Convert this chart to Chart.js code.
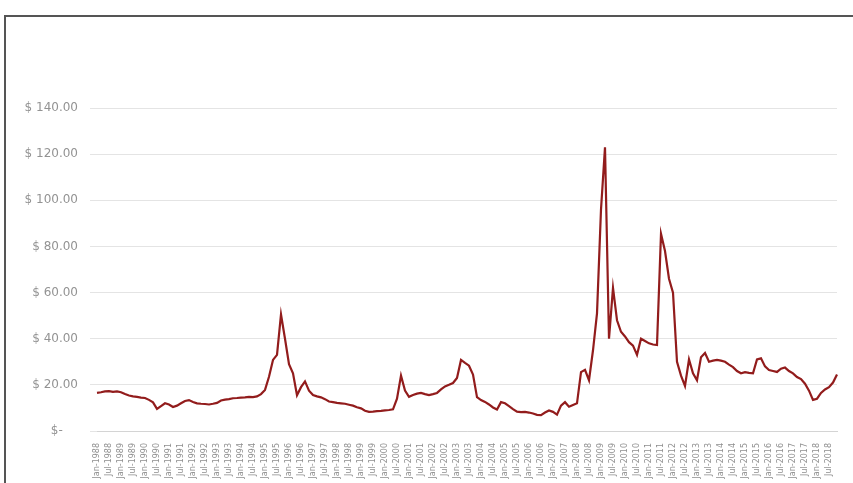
<!DOCTYPE html>
<html>
<head>
<meta charset="utf-8">
<script src="https://cdn.jsdelivr.net/npm/chart.js@4/dist/chart.umd.min.js"></script>
<style>
  html, body { margin: 0; padding: 0; width: 853px; height: 483px; overflow: hidden; background: #fff; }
  #frame { position: absolute; left: 4px; top: 15px; width: 900px; height: 600px; border: 2px solid #555; box-sizing: border-box; }
  #c { position: absolute; left: 0; top: 0; }
</style>
</head>
<body>
<div id="frame"></div>
<canvas id="c" width="853" height="560"></canvas>
<script>
// Bi-monthly price series, starting January 1988
const startYear = 1988;
const monthNames = ['Jan', 'Mar', 'May', 'Jul', 'Sep', 'Nov'];

const prices = [
  16.5, 16.8, 17.2, 17.3, 17.0, 17.2, 16.8, 16.0, 15.4, 15.0,
  14.8, 14.5, 14.3, 13.5, 12.4, 9.6, 10.8, 12.0, 11.5, 10.4,
  11.0, 12.0, 13.0, 13.4, 12.6, 12.0, 11.8, 11.7, 11.5, 11.8,
  12.2, 13.2, 13.6, 13.8, 14.2, 14.3, 14.5, 14.6, 14.8, 14.7,
  15.0, 16.0, 17.8, 23.5, 30.8, 33.0, 50.5, 40.0, 29.0, 25.0,
  15.5, 19.0, 21.5, 17.5, 15.6, 15.0, 14.6, 13.8, 12.8, 12.5,
  12.2, 12.0, 11.8, 11.4, 11.0, 10.3, 9.8, 8.8, 8.3, 8.4,
  8.6, 8.7, 8.9, 9.1, 9.4, 14.0, 24.0, 17.5, 14.8, 15.6,
  16.2, 16.5, 16.0, 15.6, 16.0, 16.5, 18.0, 19.3, 20.0, 20.8,
  23.0, 30.8, 29.5, 28.3, 24.5, 14.7, 13.4, 12.6, 11.5, 10.2,
  9.3, 12.5, 12.0, 10.8, 9.5, 8.4, 8.2, 8.3, 8.0, 7.6,
  7.0, 6.9, 8.0, 8.9, 8.3, 7.1, 11.0, 12.5, 10.5, 11.3,
  12.0, 25.5, 26.5, 22.0, 35.0, 51.0, 96.0, 123.0, 40.0, 62.0,
  48.0, 43.0, 41.0, 38.5, 37.0, 33.0, 40.0, 39.0, 38.0, 37.5,
  37.3, 85.5, 78.0, 66.0, 60.0, 30.0, 24.0, 19.5, 31.0, 25.0,
  22.0, 32.0, 33.8, 30.0, 30.5, 30.8, 30.5, 30.0, 28.8, 27.7,
  26.0, 25.0, 25.5, 25.2, 25.0, 31.0, 31.5, 28.0, 26.4, 26.0,
  25.6, 27.0, 27.5, 26.0, 25.0, 23.4, 22.5, 20.5, 17.5, 13.5,
  14.0, 16.5, 18.0, 19.0, 21.0, 24.5
];

const yTickValues = [0, 20, 40, 60, 80, 100, 120, 140];

const periods = prices.map((_, i) =>
  monthNames[i % 6] + '-' + (startYear + Math.floor(i / 6)));

const labelEvery = 3;

function moneyLabel(v) {
  return v === 0 ? '$-    ' : '$ ' + v.toFixed(2);
}

// Slightly spaced lettering for axis text
const spacedText = {
  id: 'spacedText',
  beforeInit(chart) { chart.ctx.letterSpacing = '1px'; }
};

new Chart(document.getElementById('c'), {
  type: 'line',
  data: {
    labels: periods,
    datasets: [{
      data: prices,
      borderColor: '#921c1c',
      borderWidth: 2.2,
      pointRadius: 0,
      tension: 0,
      fill: false
    }]
  },
  plugins: [spacedText],
  options: {
    responsive: false,
    animation: false,
    plugins: { legend: { display: false }, tooltip: { enabled: false } },
    layout: { padding: { top: 108, right: 16, left: 0, bottom: 0 } },
    scales: {
      x: {
        type: 'category',
        offset: false,
        grid: { display: false },
        border: { display: true, color: '#d4d4d4', width: 1 },
        ticks: {
          autoSkip: false,
          minRotation: 90,
          maxRotation: 90,
          padding: 4,
          color: '#8f8f8f',
          font: { family: 'DejaVu Sans', size: 8 },
          callback: function (v, i) { return i % labelEvery === 0 ? this.getLabelForValue(v) : ''; }
        },
        afterFit: s => { s.height = 129; }
      },
      y: {
        min: 0,
        max: 140,
        afterBuildTicks: s => { s.ticks = yTickValues.map(v => ({ value: v })); },
        grid: { color: '#e4e4e4', lineWidth: 1, tickLength: 7 },
        border: { display: false },
        ticks: {
          padding: 12,
          color: '#939393',
          font: { family: 'DejaVu Sans', size: 12 },
          callback: v => moneyLabel(v)
        },
        afterFit: s => { s.width = 97; }
      }
    }
  }
});
</script>
</body>
</html>
